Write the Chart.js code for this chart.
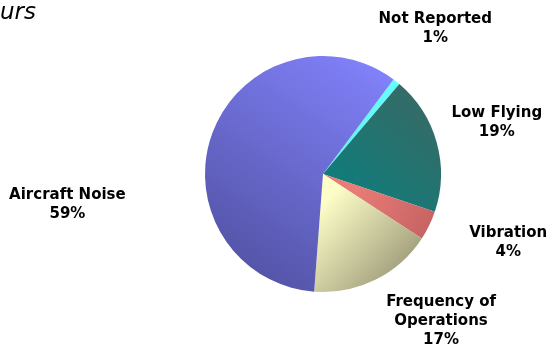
<!DOCTYPE html>
<html lang="en">
<head>
<meta charset="UTF-8">
<title>Complaints pie</title>
<script src="https://cdn.jsdelivr.net/npm/chart.js"></script>
<style>
  html, body { margin: 0; padding: 0; background: #fff; }
  canvas { display: block; }
</style>
</head>
<body>
<canvas id="pie" width="548" height="345"></canvas>
<script>
// Data
const categories = ['Not Reported', 'Low Flying', 'Vibration', 'Frequency of Operations', 'Aircraft Noise'];
const labelLines = [['Not Reported'], ['Low Flying'], ['Vibration'], ['Frequency of', 'Operations'], ['Aircraft Noise']];
const shares = [1, 19, 4, 17, 59];

// gradient per slice: light colour, dark colour, then start / end points in radii from the centre
const sliceColours = [
    ['#5ef0f0', '#66ffff', [0, 0], [0.6, -0.9]],
    ['#0f7d7b', '#376a66', [0.1, 0.1], [0.8, -0.7]],
    ['#e87c76', '#c86464', [0.3, 0.1], [0.9, 0.4]],
    ['#fdfdc8', '#8a886a', [0.05, 0.2], [0.85, 0.95]],
    ['#8282fc', '#5353a6', [0.5, -0.95], [-0.7, 0.85]]
];

function sliceFill(ctx) {
    const chart = ctx.chart;
    const c = sliceColours[ctx.dataIndex];
    const area = chart.chartArea;
    if (!area) return c[0];
    const cx = (area.left + area.right) / 2, cy = (area.top + area.bottom) / 2;
    const r = Math.min(area.width, area.height) / 2;
    const g = chart.ctx.createLinearGradient(cx + c[2][0] * r, cy + c[2][1] * r, cx + c[3][0] * r, cy + c[3][1] * r);
    g.addColorStop(0, c[0]);
    g.addColorStop(1, c[1]);
    return g;
}

// outside labels: polar placement [angle from top, distance in radii] for the text block centre
const outsideLabels = {
    id: 'outsideLabels',
    afterDraw(chart, args, opts) {
        const ctx = chart.ctx;
        const meta = chart.getDatasetMeta(0);
        ctx.save();
        ctx.fillStyle = '#000';
        ctx.textAlign = 'center';
        ctx.textBaseline = 'middle';
        ctx.font = 'bold 15px "DejaVu Sans", Verdana, sans-serif';
        meta.data.forEach((arc, i) => {
            const p = opts.place[i];
            const a = p[0] * Math.PI / 180;
            const d = arc.outerRadius * p[1];
            const x = arc.x + Math.sin(a) * d;
            const y = arc.y - Math.cos(a) * d + 1.5;
            const lines = labelLines[i].concat([shares[i] + '%']);
            const lh = 19;
            lines.forEach((t, k) => {
                ctx.fillText(t, x, y + (k - (lines.length - 1) / 2) * lh);
            });
        });
        // title, cut off at the left edge as in the source
        ctx.textAlign = 'left';
        ctx.textBaseline = 'alphabetic';
        ctx.font = 'italic 23px "DejaVu Sans", Verdana, sans-serif';
        ctx.fillText(opts.title, 0, 19);
        ctx.restore();
    }
};

new Chart(document.getElementById('pie'), {
    type: 'pie',
    data: {
        labels: categories,
        datasets: [{
            data: shares,
            backgroundColor: sliceFill,
            borderWidth: 0
        }]
    },
    options: {
        responsive: false,
        animation: false,
        rotation: 36.7,
        layout: { padding: { left: 205, right: 107, top: 56, bottom: 53 } },
        plugins: {
            legend: { display: false },
            tooltip: { enabled: false },
            outsideLabels: {
                title: 'urs',
                place: [[37.3, 1.57], [73, 1.54], [110, 1.67], [141, 1.59], [263.5, 2.18]]
            }
        }
    },
    plugins: [outsideLabels]
});
</script>
</body>
</html>
